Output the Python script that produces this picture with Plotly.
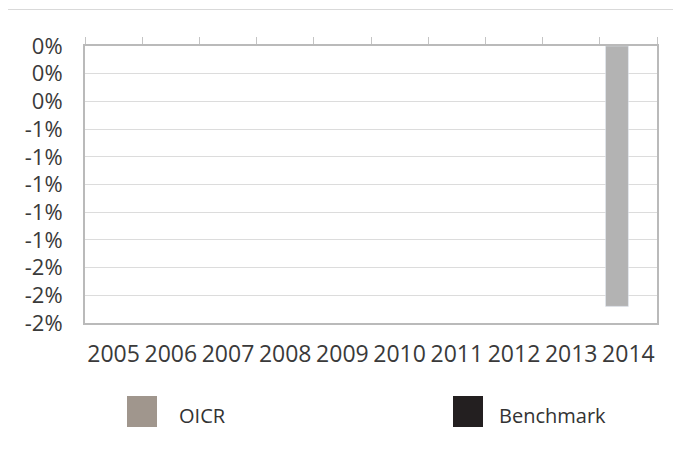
import plotly.graph_objects as go

years = ["2005", "2006", "2007", "2008", "2009", "2010", "2011", "2012", "2013", "2014"]
oicr = [None, None, None, None, None, None, None, None, None, -1.88]
benchmark = [None, None, None, None, None, None, None, None, None, None]
y_tickvals = [0, -0.2, -0.4, -0.6, -0.8, -1.0, -1.2, -1.4, -1.6, -1.8, -2.0]
y_ticktext = ["0%", "0%", "0%", "-1%", "-1%", "-1%", "-1%", "-1%", "-2%", "-2%", "-2%"]
series_names = ["OICR", "Benchmark"]
legend_colors = ["#a0968d", "#231f20"]

OFF = 8  # page body margin offset
W, H = 681 - OFF, 457 - OFF
L, R, T = 85 - OFF, 24, 46 - OFF
ph = 277
B = H - T - ph
pw = W - L - R

def px(x):
    return (x - OFF - L) / pw

def py(y):
    return 1 - (y - OFF - T) / ph

fig = go.Figure()
fig.add_trace(go.Bar(x=years, y=oicr, name=series_names[0], marker_color="#b3b3b3",
                     showlegend=False, hoverinfo="x+y"))
fig.add_trace(go.Bar(x=years, y=benchmark, name=series_names[1], marker_color=legend_colors[1],
                     showlegend=False))
# invisible helper trace for the top axis with boundary ticks
fig.add_trace(go.Scatter(x=years, y=[0] * len(years), xaxis="x2", mode="markers",
                         marker=dict(opacity=0), showlegend=False, hoverinfo="skip"))

font = "Open Sans, Segoe UI, sans-serif"
axis_col = "#bababa"

fig.update_layout(
    width=W, height=H,
    margin=dict(l=L, r=R, t=T, b=B),
    paper_bgcolor="white", plot_bgcolor="white",
    barmode="group", bargap=0.2, bargroupgap=0,
    showlegend=False,
    xaxis=dict(type="category", categoryorder="array", categoryarray=years,
               range=[-0.5, 9.5], showline=True, linecolor=axis_col, linewidth=2,
               ticks="", showgrid=False, ticklabelstandoff=9,
               tickfont=dict(family=font, size=23, color="#3a3a3a")),
    xaxis2=dict(type="category", categoryorder="array", categoryarray=years,
                overlaying="x", side="top", range=[-0.5, 9.5],
                tickson="boundaries", ticks="outside", ticklen=7, tickwidth=1,
                tickcolor="#c4c4c4", showline=True, linecolor=axis_col, linewidth=2,
                showticklabels=False, showgrid=False),
    yaxis=dict(range=[-2, 0], tickvals=y_tickvals, ticktext=y_ticktext,
               showgrid=True, gridcolor="#dcdcdc", gridwidth=1, zeroline=False,
               showline=True, mirror=True, linecolor=axis_col, linewidth=2,
               ticks="", ticklabelstandoff=16,
               tickfont=dict(family=font, size=22, color="#3a3a3a")),
)

shapes = [
    # outer chart border
    dict(type="rect", xref="paper", yref="paper",
         x0=px(6.5), x1=px(720), y0=py(500), y1=py(9.5),
         line=dict(color="#d9d9d9", width=1), fillcolor="rgba(0,0,0,0)", layer="below"),
]
legend_items = [(127, 177), (453, 497)]
annotations = []
for (sx, tx), name, col in zip(legend_items, series_names, legend_colors):
    shapes.append(dict(type="rect", xref="paper", yref="paper",
                       x0=px(sx), x1=px(sx + 30), y0=py(427), y1=py(396),
                       line=dict(width=0), fillcolor=col))
    annotations.append(dict(text=name, xref="paper", yref="paper", x=px(tx), y=py(415),
                            xanchor="left", yanchor="middle", showarrow=False,
                            font=dict(family=font, size=20, color="#333333")))
fig.update_layout(shapes=shapes, annotations=annotations)

fig.write_html("out.html")
